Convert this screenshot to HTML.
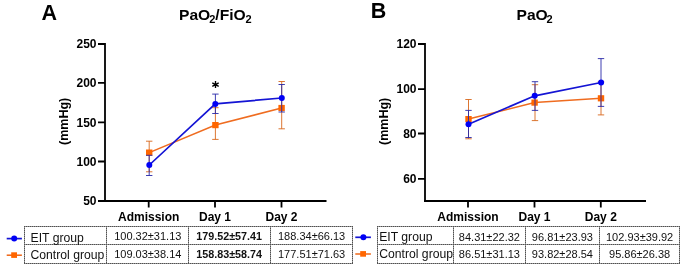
<!DOCTYPE html>
<html>
<head>
<meta charset="utf-8">
<style>
html,body{margin:0;padding:0;background:#fff;}
body{width:685px;height:269px;overflow:hidden;position:relative;}
svg{position:absolute;left:0;top:0;will-change:transform;filter:blur(0.25px);}
text{font-family:"Liberation Sans",sans-serif;}
.b{font-weight:bold;}
.ax{stroke:#000;stroke-width:1.8;fill:none;}
.tl{font-size:12px;font-weight:bold;fill:#000;}
.bl{stroke:#1414d4;stroke-width:1.7;fill:none;}
.ol{stroke:#ef6c20;stroke-width:1.55;fill:none;}
.be{stroke:#2828a8;stroke-width:0.9;fill:none;}
.oe{stroke:#d8681c;stroke-width:0.9;fill:none;}
.bc{fill:#0000f5;}
.os{fill:#ff6600;}
.tc{font-size:11px;fill:#111;}
.lab{font-size:12.2px;fill:#111;}
.grid0{stroke:#989898;stroke-width:1;fill:none;}
.grid{stroke:#505050;stroke-width:1;stroke-dasharray:1 1;fill:none;}
</style>
</head>
<body>
<svg width="685" height="269" viewBox="0 0 685 269">
<!-- ===== Panel A ===== -->
<text x="41.5" y="20.3" class="b" font-size="21.5">A</text>
<g class="b" font-size="15.3">
<text transform="translate(179 19.7) scale(1.022 1)">PaO</text>
<text transform="translate(209.2 23.2) scale(1.022 1)" font-size="10.8">2</text>
<text transform="translate(215.3 19.7) scale(1.022 1)">/FiO</text>
<text transform="translate(245.4 23.2) scale(1.022 1)" font-size="10.8">2</text>
</g>

<!-- axes -->
<path class="ax" d="M105 43V202 M98 44H105 M98 82.9H105 M98 122.3H105 M98 161.5H105 M98 201H326.5 M148.7 201V207.6 M215 201V207.6 M281.5 201V207.6"/>
<g class="tl" text-anchor="end">
<text x="96.5" y="48.2">250</text>
<text x="96.5" y="87.1">200</text>
<text x="96.5" y="126.5">150</text>
<text x="96.5" y="165.7">100</text>
<text x="96.5" y="205.1">50</text>
</g>
<g class="tl" text-anchor="middle">
<text x="148.7" y="220.8">Admission</text>
<text x="215" y="220.8">Day 1</text>
<text x="281.5" y="220.8">Day 2</text>
</g>
<text class="b" font-size="12.5" text-anchor="middle" transform="translate(68.3 121.4) rotate(-90)">(mmHg)</text>

<!-- orange series A -->
<path class="oe" d="M149.2 141.2V171.8 M146.0 141.2H152.4 M146.0 171.8H152.4 M215.4 107.7V139.4 M212.2 107.7H218.6 M212.2 139.4H218.6 M281.7 81.5V128.8 M278.5 81.5H284.9 M278.5 128.8H284.9"/>
<path class="ol" d="M149.2 152.6L215.4 125.1L281.6 108"/>
<rect class="os" x="146.00" y="149.50" width="6.4" height="6.2"/>
<rect class="os" x="212.20" y="122.00" width="6.4" height="6.2"/>
<rect class="os" x="278.40" y="104.90" width="6.4" height="6.2"/>
<!-- blue series A -->
<path class="be" d="M149.2 155.3V175.5 M146.0 155.3H152.4 M146.0 175.5H152.4 M215.4 94.1V113.5 M212.2 94.1H218.6 M212.2 113.5H218.6 M281.7 84.5V112 M278.5 84.5H284.9 M278.5 112H284.9"/>
<path class="bl" d="M149.3 165L215.3 103.9L281.8 98"/>
<circle class="bc" cx="149.3" cy="165" r="3"/>
<circle class="bc" cx="215.3" cy="103.9" r="3"/>
<circle class="bc" cx="281.8" cy="98" r="3"/>
<!-- asterisk -->
<path stroke="#000" stroke-width="1.35" d="M215.5 81.1V88.1 M212.3 82.8L218.7 86.4 M212.3 86.4L218.7 82.8"/><circle cx="215.5" cy="84.6" r="1.2" fill="#000"/>

<!-- ===== Panel B ===== -->
<text x="370.8" y="18.4" class="b" font-size="21.5">B</text>
<g class="b" font-size="15.3">
<text transform="translate(516.5 19.7) scale(1.022 1)">PaO</text>
<text transform="translate(546.6 23.2) scale(1.022 1)" font-size="10.8">2</text>
</g>

<path class="ax" d="M425 43V202 M418 44H425 M418 89.1H425 M418 133.5H425 M418 178.8H425 M424 201H646 M468 201V207.6 M534.5 201V207.6 M600.8 201V207.6"/>
<g class="tl" text-anchor="end">
<text x="416.5" y="48.2">120</text>
<text x="416.5" y="93.3">100</text>
<text x="416.5" y="137.7">80</text>
<text x="416.5" y="183">60</text>
</g>
<g class="tl" text-anchor="middle">
<text x="468" y="220.8">Admission</text>
<text x="534.5" y="220.8">Day 1</text>
<text x="600.8" y="220.8">Day 2</text>
</g>
<text class="b" font-size="12.5" text-anchor="middle" transform="translate(388.3 121.4) rotate(-90)">(mmHg)</text>

<!-- orange series B -->
<path class="oe" d="M468.5 99.5V138.8 M465.3 99.5H471.7 M465.3 138.8H471.7 M535 84.7V120.6 M531.8 84.7H538.2 M531.8 120.6H538.2 M601 81.7V114.9 M597.8 81.7H604.2 M597.8 114.9H604.2"/>
<path class="ol" d="M468.5 119.1L534.6 102.6L601 98.3"/>
<rect class="os" x="465.30" y="116.00" width="6.4" height="6.2"/>
<rect class="os" x="531.40" y="99.50" width="6.4" height="6.2"/>
<rect class="os" x="597.80" y="95.20" width="6.4" height="6.2"/>
<!-- blue series B -->
<path class="be" d="M468.5 110.4V137.5 M465.3 110.4H471.7 M465.3 137.5H471.7 M535 81.7V110.4 M531.8 81.7H538.2 M531.8 110.4H538.2 M601 58.6V106.4 M597.8 58.6H604.2 M597.8 106.4H604.2"/>
<path class="bl" d="M468.5 124.3L534.7 95.8L601.1 82.5"/>
<circle class="bc" cx="468.5" cy="124.3" r="3"/>
<circle class="bc" cx="534.7" cy="95.8" r="3"/>
<circle class="bc" cx="601.1" cy="82.5" r="3"/>

<!-- ===== Table A ===== -->
<path class="grid0" d="M24 226.5H353 M24 244.5H353 M24 263.5H353 M24.5 226V264 M106.5 226V264 M188.5 226V264 M270.5 226V264 M352.5 226V264"/><path class="grid" d="M24 226.5H353 M24 244.5H353 M24 263.5H353 M24.5 226V264 M106.5 226V264 M188.5 226V264 M270.5 226V264 M352.5 226V264"/>
<path class="bl" stroke-width="1.5" d="M6.7 238.6H21.9"/>
<circle class="bc" cx="14.2" cy="238.6" r="3"/>
<path class="ol" stroke-width="1.5" d="M6.7 255.2H21.9"/>
<rect class="os" x="11.2" y="252.3" width="5.8" height="5.6"/>
<text class="lab" x="30.5" y="242.3">EIT group</text>
<text class="lab" x="30.5" y="258.5">Control group</text>
<g class="tc" text-anchor="middle">
<text x="147.8" y="239.9">100.32±31.13</text>
<text x="147.8" y="258.2">109.03±38.14</text>
<text x="229.2" y="239.9" font-weight="bold" font-size="10.75">179.52±57.41</text>
<text x="229.2" y="258.2" font-weight="bold" font-size="10.75">158.83±58.74</text>
<text x="311.6" y="239.9">188.34±66.13</text>
<text x="311.6" y="258.2">177.51±71.63</text>
</g>

<!-- ===== Table B ===== -->
<path class="grid0" d="M377 226.5H680 M377 244.5H680 M377 263.5H680 M377.5 226V264 M453.5 226V264 M525.5 226V264 M599.5 226V264 M679.5 226V264"/><path class="grid" d="M377 226.5H680 M377 244.5H680 M377 263.5H680 M377.5 226V264 M453.5 226V264 M525.5 226V264 M599.5 226V264 M679.5 226V264"/>
<path class="bl" stroke-width="1.5" d="M355.3 237.3H370.9"/>
<circle class="bc" cx="363.4" cy="237.3" r="3"/>
<path class="ol" stroke-width="1.5" d="M355.3 254H370.9"/>
<rect class="os" x="360.2" y="251.1" width="5.8" height="5.6"/>
<text class="lab" x="379.2" y="241.2">EIT group</text>
<text class="lab" x="379.2" y="257.6">Control group</text>
<g class="tc" text-anchor="middle">
<text x="489.4" y="240.7">84.31±22.32</text>
<text x="489.4" y="257.7">86.51±31.13</text>
<text x="562.4" y="240.7">96.81±23.93</text>
<text x="562.4" y="257.7">93.82±28.54</text>
<text x="639.6" y="240.7">102.93±39.92</text>
<text x="639.6" y="257.7">95.86±26.38</text>
</g>
</svg>
</body>
</html>
